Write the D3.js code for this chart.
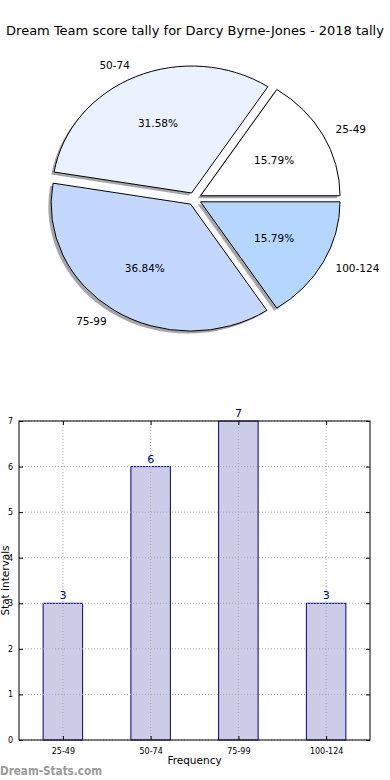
<!DOCTYPE html>
<html><head><meta charset="utf-8">
<script src="https://cdn.jsdelivr.net/npm/d3@7"></script>
<style>body{margin:0;background:#fff}svg{display:block}text{font-family:"DejaVu Sans",sans-serif}</style>
</head><body>
<script>
const title = "Dream Team score tally for Darcy Byrne-Jones - 2018 tally";
const categories = ["25-49", "50-74", "75-99", "100-124"];
const counts = [3, 6, 7, 3];
const pieColors = ["#ffffff", "#eaf1ff", "#c4d8ff", "#b4d6ff"];
const yTicks = [0, 1, 2, 3, 4, 5, 6, 7];
const xLabel = "Frequency";
const yLabel = "Stat intervals";
const watermark = "Dream-Stats.com";

const W = 390, H = 780;
const svg = d3.select("body").append("svg").attr("width", W).attr("height", H);

svg.append("text").attr("x", W/2).attr("y", 35).attr("text-anchor", "middle")
  .attr("font-size", 13).attr("fill", "#000").text(title);

// ---- Pie ----
const cx = 194.4, cy = 198.8, rx = 139.5, ry = 127, explode = 0.05;
const total = d3.sum(counts);
const pie = d3.pie().sort(null).startAngle(Math.PI/2).endAngle(Math.PI/2 - 2*Math.PI);
const arcs = pie(counts);
const arcGen = d3.arc().innerRadius(0).outerRadius(1);
const pieG = svg.append("g");
arcs.forEach((a, i) => {
  const t1 = Math.PI/2 - a.startAngle, t2 = Math.PI/2 - a.endAngle;
  const tm = (t1 + t2) / 2;
  const ox = explode * rx * Math.cos(tm), oy = -explode * ry * Math.sin(tm);
  const px = cx + ox, py = cy + oy;
  pieG.append("path").attr("d", arcGen(a))
    .attr("transform", `translate(${px - 0.02*rx},${py + 0.02*ry}) scale(${rx},${ry})`)
    .attr("fill", "#4d4d4d").attr("fill-opacity", 0.5).attr("stroke", "none");
});
arcs.forEach((a, i) => {
  const t1 = Math.PI/2 - a.startAngle, t2 = Math.PI/2 - a.endAngle;
  const tm = (t1 + t2) / 2;
  const ox = explode * rx * Math.cos(tm), oy = -explode * ry * Math.sin(tm);
  const px = cx + ox, py = cy + oy;
  pieG.append("path").attr("d", arcGen(a))
    .attr("transform", `translate(${px},${py}) scale(${rx},${ry})`)
    .attr("fill", pieColors[i]).attr("stroke", "#000").attr("stroke-width", 1)
    .attr("vector-effect", "non-scaling-stroke").attr("stroke-linejoin", "round");
  const c = Math.cos(tm), s = Math.sin(tm);
  pieG.append("text").attr("x", px + 1.1*rx*c).attr("y", py - 1.1*ry*s)
    .attr("text-anchor", c > 0 ? "start" : "end").attr("dominant-baseline", "central")
    .attr("font-size", 10.5).text(categories[i]);
  pieG.append("text").attr("x", px + 0.6*rx*c).attr("y", py - 0.6*ry*s)
    .attr("text-anchor", "middle").attr("dominant-baseline", "central")
    .attr("font-size", 10.5).text((counts[i]/total*100).toFixed(2) + "%");
});

// ---- Bar chart ----
const L = 19, R = 370, T = 421, B = 740;
const x = d3.scaleLinear().domain([-0.5, categories.length - 0.5]).range([L, R]);
const y = d3.scaleLinear().domain([0, 7]).range([B, T]);
const bw = 0.45;
const g = svg.append("g");
g.selectAll("rect.bar").data(counts).enter().append("rect")
  .attr("x", (d, i) => x(i - bw/2)).attr("width", (d, i) => x(i + bw/2) - x(i - bw/2))
  .attr("y", d => y(d)).attr("height", d => y(0) - y(d))
  .attr("fill", "#ccccE6").attr("stroke", "#000080").attr("stroke-width", 1);
g.selectAll("line.hg").data(yTicks).enter().append("line")
  .attr("x1", L).attr("x2", R).attr("y1", d => y(d)).attr("y2", d => y(d))
  .attr("stroke", "#aaa").attr("stroke-width", 1).attr("stroke-dasharray", "1,2");
g.selectAll("line.vg").data(categories).enter().append("line")
  .attr("x1", (d, i) => x(i)).attr("x2", (d, i) => x(i)).attr("y1", T).attr("y2", B)
  .attr("stroke", "#aaa").attr("stroke-width", 1).attr("stroke-dasharray", "1,2");
g.append("rect").attr("x", L).attr("y", T).attr("width", R - L).attr("height", B - T)
  .attr("fill", "none").attr("stroke", "#000").attr("stroke-width", 1);
const yAxisL = d3.axisLeft(y).tickValues(yTicks).tickFormat(d3.format("d"))
  .tickSizeInner(-4).tickSizeOuter(0).tickPadding(6);
const ay = g.append("g").attr("transform", `translate(${L},0)`).call(yAxisL);
ay.select(".domain").remove();
ay.selectAll("text").attr("font-size", 8).attr("font-family", "DejaVu Sans");
const yAxisR = d3.axisRight(y).tickValues(yTicks).tickSizeInner(-4).tickSizeOuter(0).tickFormat("");
const ayr = g.append("g").attr("transform", `translate(${R},0)`).call(yAxisR);
ayr.select(".domain").remove();
const xAxisB = d3.axisBottom(x).tickValues(d3.range(categories.length)).tickFormat(i => categories[i])
  .tickSizeInner(-4).tickSizeOuter(0).tickPadding(8);
const axb = g.append("g").attr("transform", `translate(0,${B})`).call(xAxisB);
axb.select(".domain").remove();
axb.selectAll("text").attr("font-size", 8).attr("font-family", "DejaVu Sans");
const xAxisT = d3.axisTop(x).tickValues(d3.range(categories.length)).tickFormat("")
  .tickSizeInner(-4).tickSizeOuter(0);
const axt = g.append("g").attr("transform", `translate(0,${T})`).call(xAxisT);
axt.select(".domain").remove();
g.selectAll("text.val").data(counts).enter().append("text")
  .attr("x", (d, i) => x(i)).attr("y", d => y(d) - 4)
  .attr("text-anchor", "middle").attr("font-size", 11).attr("fill", "#000080").text(d => d);
svg.append("text").attr("x", (L + R)/2).attr("y", 764).attr("text-anchor", "middle")
  .attr("font-size", 10.5).text(xLabel);
svg.append("text").attr("transform", `translate(9,${(T + B)/2}) rotate(-90)`)
  .attr("text-anchor", "middle").attr("font-size", 10.5).text(yLabel);
svg.append("text").attr("x", 0).attr("y", 775).attr("font-size", 12).attr("font-weight", "bold")
  .attr("fill", "#9a9a9a").attr("textLength", 102).attr("lengthAdjust", "spacingAndGlyphs").text(watermark);
</script>
</body></html>
